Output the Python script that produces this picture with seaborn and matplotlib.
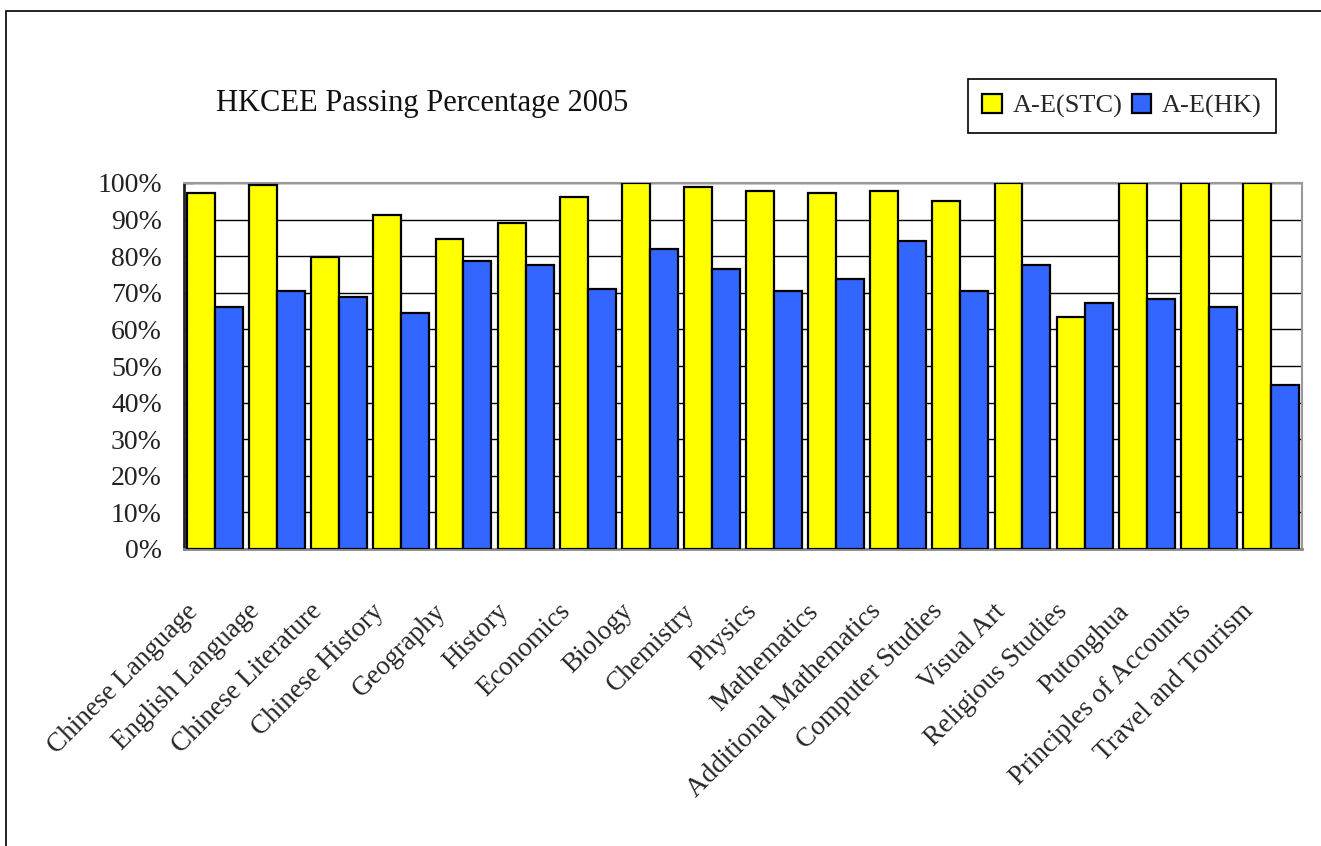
"""
hkcee_passing.py
HKCEE passing percentage 2005 - school (STC) vs Hong Kong overall.
"""

import pandas as pd
import seaborn as sns
import matplotlib.pyplot as plt
import matplotlib.transforms as mtransforms
from matplotlib.patches import Rectangle
from matplotlib.ticker import PercentFormatter, MultipleLocator

# data (percent of candidates with grade A-E)
subjects = [
    "Chinese Language", "English Language", "Chinese Literature", "Chinese History",
    "Geography", "History", "Economics", "Biology", "Chemistry", "Physics",
    "Mathematics", "Additional Mathematics", "Computer Studies", "Visual Art",
    "Religious Studies", "Putonghua", "Principles of Accounts", "Travel and Tourism",
]
stc_pct = [97.3, 99.5, 79.8, 91.3, 84.7, 89.1, 96.2, 100.0, 98.9, 97.8,
           97.3, 97.8, 95.1, 100.0, 63.4, 100.0, 100.0, 100.0]
hk_pct = [66.1, 70.5, 68.9, 64.5, 78.7, 77.6, 71.0, 82.0, 76.5, 70.5,
          73.8, 84.2, 70.5, 77.6, 67.2, 68.3, 66.1, 44.8]
series_names = ["A-E(STC)", "A-E(HK)"]
series_colors = ["#FFFF00", "#3366FF"]

df = pd.DataFrame({
    "subject": subjects * 2,
    "pct": stc_pct + hk_pct,
    "series": [series_names[0]] * len(subjects) + [series_names[1]] * len(subjects),
})

sns.set_style("white")
plt.rcParams["font.family"] = ["Liberation Serif", "DejaVu Serif"]

fig = plt.figure(figsize=(13.21, 8.46), dpi=100)
ax = fig.add_axes([184 / 1321, 1 - 549 / 846, (1302 - 184) / 1321, (549 - 183) / 846])

sns.barplot(data=df, x="subject", y="pct", hue="series", palette=series_colors,
            saturation=1, width=0.9, gap=0, edgecolor="black", linewidth=1.6,
            ax=ax, zorder=3)

# axes look
ax.set_ylim(0, 100)
ax.set_xlim(-0.5, len(subjects) - 0.5)
ax.yaxis.set_major_locator(MultipleLocator(10))
ax.yaxis.set_major_formatter(PercentFormatter(xmax=100, decimals=0))
ax.grid(axis="y", color="black", linewidth=1.0, zorder=0)
ax.set_axisbelow(True)
ax.set_xlabel("")
ax.set_ylabel("")

for side in ["top", "right"]:
    ax.spines[side].set_color("#999999")
    ax.spines[side].set_linewidth(1.5)
ax.spines["left"].set_color("#222222")
ax.spines["left"].set_linewidth(2)
ax.spines["bottom"].set_color("#888888")
ax.spines["bottom"].set_linewidth(2)

ax.tick_params(axis="y", direction="in", length=7, width=1, color="#555555",
               labelsize=20, labelcolor="#222222", pad=16, left=True)
ax.tick_params(axis="x", length=0, labelsize=19.5, pad=36)

# rotated category labels, right end a little left of each group
offset = mtransforms.ScaledTranslation(-30 / 100, 0, fig.dpi_scale_trans)
for lab in ax.get_xticklabels():
    lab.set_rotation(45)
    lab.set_ha("right")
    lab.set_rotation_mode("anchor")
    lab.set_transform(lab.get_transform() + offset)

# legend
handles, labels = ax.get_legend_handles_labels()
ax.legend(handles, labels, ncol=2, loc="center", bbox_to_anchor=(1122 / 1321, 1 - 106 / 846),
          bbox_transform=fig.transFigure, frameon=True, fancybox=False, edgecolor="black",
          fontsize=19, handlelength=0.75, handleheight=0.75, handletextpad=0.4,
          columnspacing=0.35, borderpad=0.55, borderaxespad=0, framealpha=1)
ax.get_legend().get_frame().set_linewidth(1.2)

fig.text(216 / 1321, 1 - 103 / 846, "HKCEE Passing Percentage 2005",
         fontsize=22, va="center", ha="left", color="#111111")

# outer frame of the chart area (left and top edges visible)
fig.patches.append(Rectangle((6 / 1321, -0.1), 1.2, (846 - 11) / 846 + 0.1,
                             transform=fig.transFigure, fill=False,
                             edgecolor="black", linewidth=1.2))

fig.savefig("out.png", dpi=100)
